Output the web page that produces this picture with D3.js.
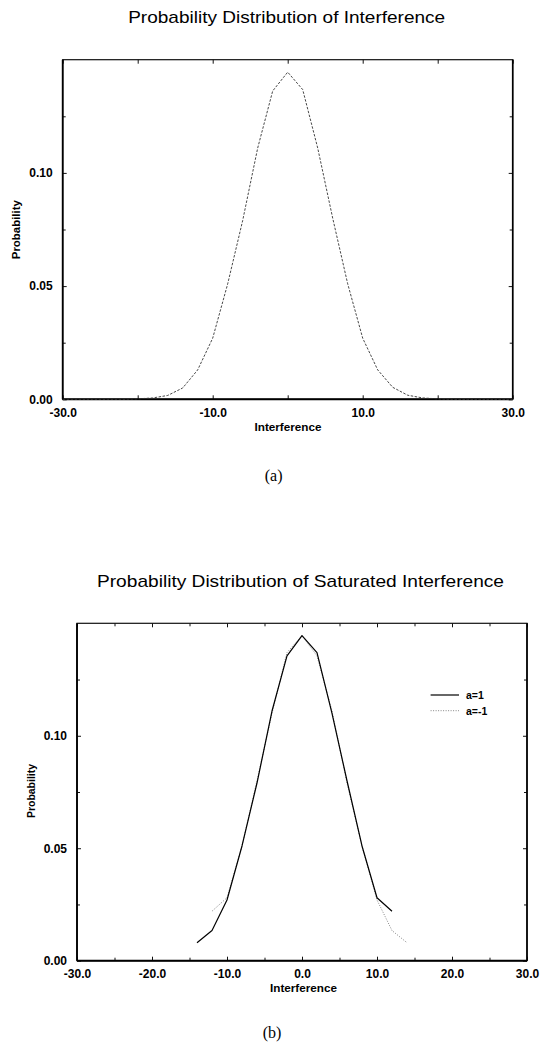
<!DOCTYPE html>
<html>
<head>
<meta charset="utf-8">
<script src="https://cdn.jsdelivr.net/npm/d3@7"></script>
<style>
  html, body { margin: 0; padding: 0; background: #fff; }
  svg { display: block; }
</style>
</head>
<body>
<script>
// ---------------- DATA ----------------
// Panel (a): probability distribution of interference
const interfX = [-30,-28,-26,-24,-22,-20,-18,-16,-14,-12,-10,-8,-6,-4,-2,0,2,4,6,8,10,12,14,16,18,20,22,24,26,28,30];
const interfP = [0,0,0,0,0,0.0002,0.0006,0.0017,0.0050,0.0130,0.0270,0.0510,0.0790,0.1110,0.1362,0.1445,0.1368,0.1110,0.0800,0.0510,0.0270,0.0130,0.0053,0.0018,0.0006,0.0002,0,0,0,0,0];

// Panel (b): probability distribution of saturated interference
const satXa1  = [-14,-12,-10,-8,-6,-4,-2,0,2,4,6,8,10,12];
const satPa1  = [0.0080,0.0134,0.0270,0.0510,0.0790,0.1110,0.1355,0.1445,0.1370,0.1100,0.0800,0.0510,0.0280,0.0220];
const satXam1 = [-12,-10,-8,-6,-4,-2,0,2,4,6,8,10,12,14];
const satPam1 = [0.0220,0.0280,0.0510,0.0800,0.1100,0.1370,0.1445,0.1355,0.1110,0.0790,0.0510,0.0270,0.0134,0.0080];
const legendLabels = ["a=1", "a=-1"];

// ticks
const xDomain = [-30, 30];
const yDomain = [0, 0.15];
const xMajorA = [-30,-20,-10,0,10,20,30];
const xLabelsA = [-30,-10,10,30];
const xMajorB = [-30,-20,-10,0,10,20,30];
const xMinorB = [-25,-15,-5,5,15,25];
const xLabelsB = [-30,-20,-10,0,10,20,30];
const yMajor = [0, 0.05, 0.10];
const yMinor = [0.025, 0.075, 0.125];

const titles = ["Probability Distribution of Interference", "Probability Distribution of Saturated Interference"];
const xTitle = "Interference";
const yTitle = "Probability";
const captions = ["(a)", "(b)"];

// ---------------- DRAW ----------------
const W = 543, H = 1042;
const svg = d3.select("body").append("svg").attr("width", W).attr("height", H);

const SANS = "'Liberation Sans', Arial, Helvetica, sans-serif";
const SERIF = "'Liberation Serif', 'Times New Roman', serif";

function panel(cfg) {
  const g = svg.append("g");
  const x = d3.scaleLinear().domain(xDomain).range([cfg.left, cfg.right]);
  const y = d3.scaleLinear().domain(yDomain).range([cfg.bottom, cfg.top]);

  // title
  g.append("text")
    .attr("x", cfg.titleX).attr("y", cfg.titleY)
    .attr("text-anchor", "middle")
    .attr("font-family", SANS).attr("font-size", 17)
    .attr("textLength", cfg.titleLen).attr("lengthAdjust", "spacingAndGlyphs")
    .attr("fill", "#000")
    .text(cfg.title);

  // axes via d3 axis generators, ticks pointing inward
  const fmtX = v => cfg.xLabels.includes(v) ? v.toFixed(1) : "";
  const fmtY = v => v.toFixed(2);

  g.append("g").attr("transform", `translate(0,${cfg.bottom})`)
    .call(d3.axisBottom(x).tickValues(cfg.xMajor).tickSizeInner(-4).tickSizeOuter(0).tickFormat(fmtX).tickPadding(9));
  g.append("g").attr("transform", `translate(0,${cfg.top})`)
    .call(d3.axisTop(x).tickValues(cfg.xMajor).tickSizeInner(-4).tickSizeOuter(0).tickFormat(""));
  g.append("g").attr("transform", `translate(${cfg.left},0)`)
    .call(d3.axisLeft(y).tickValues(yMajor).tickSizeInner(-4).tickSizeOuter(0).tickFormat(fmtY).tickPadding(10));
  g.append("g").attr("transform", `translate(${cfg.right},0)`)
    .call(d3.axisRight(y).tickValues(yMajor).tickSizeInner(-4).tickSizeOuter(0).tickFormat(""));

  // minor ticks
  if (cfg.xMinor.length) {
    g.append("g").attr("transform", `translate(0,${cfg.bottom})`)
      .call(d3.axisBottom(x).tickValues(cfg.xMinor).tickSizeInner(-3).tickSizeOuter(0).tickFormat(""));
    g.append("g").attr("transform", `translate(0,${cfg.top})`)
      .call(d3.axisTop(x).tickValues(cfg.xMinor).tickSizeInner(-3).tickSizeOuter(0).tickFormat(""));
  }
  g.append("g").attr("transform", `translate(${cfg.left},0)`)
    .call(d3.axisLeft(y).tickValues(yMinor).tickSizeInner(-3).tickSizeOuter(0).tickFormat(""));
  g.append("g").attr("transform", `translate(${cfg.right},0)`)
    .call(d3.axisRight(y).tickValues(yMinor).tickSizeInner(-3).tickSizeOuter(0).tickFormat(""));

  g.selectAll(".domain").remove();
  g.selectAll(".tick line").attr("stroke", "#111").attr("stroke-width", 1);
  g.selectAll(".tick text").attr("font-family", SANS).attr("font-size", 12)
    .attr("font-weight", "bold").attr("fill", "#000");

  // frame
  g.append("rect")
    .attr("x", cfg.left).attr("y", cfg.top)
    .attr("width", cfg.right - cfg.left).attr("height", cfg.bottom - cfg.top)
    .attr("fill", "none").attr("stroke", "#111").attr("stroke-width", 1.2);
  g.append("line").attr("x1", cfg.left).attr("x2", cfg.right)
    .attr("y1", cfg.bottom).attr("y2", cfg.bottom).attr("stroke", "#000").attr("stroke-width", 2);
  g.append("line").attr("x1", cfg.left).attr("x2", cfg.left)
    .attr("y1", cfg.top).attr("y2", cfg.bottom).attr("stroke", "#000").attr("stroke-width", 1.8);
  g.append("line").attr("x1", cfg.right).attr("x2", cfg.right)
    .attr("y1", cfg.top).attr("y2", cfg.bottom).attr("stroke", "#000").attr("stroke-width", 1.6);

  // axis titles
  g.append("text")
    .attr("x", cfg.xTitleX).attr("y", cfg.xTitleY)
    .attr("text-anchor", "middle")
    .attr("font-family", SANS).attr("font-size", 10.5).attr("font-weight", "bold")
    .attr("textLength", 67).attr("lengthAdjust", "spacingAndGlyphs")
    .text(xTitle);
  g.append("text")
    .attr("transform", `translate(${cfg.yTitleX},${cfg.yTitleY}) rotate(-90)`)
    .attr("text-anchor", "middle").attr("dominant-baseline", "central")
    .attr("font-family", SANS).attr("font-size", 10.5).attr("font-weight", "bold")
    .attr("textLength", cfg.yTitleLen).attr("lengthAdjust", "spacingAndGlyphs")
    .text(yTitle);

  // caption
  g.append("text")
    .attr("x", cfg.capX).attr("y", cfg.capY)
    .attr("text-anchor", "middle")
    .attr("font-family", SERIF).attr("font-size", 16)
    .text(cfg.caption);

  const line = d3.line().x(d => x(d[0])).y(d => y(d[1]));
  cfg.series.forEach(s => {
    g.append("path")
      .datum(s.xs.map((v, i) => [v, s.ps[i]]))
      .attr("d", line)
      .attr("fill", "none")
      .attr("stroke", s.color)
      .attr("stroke-width", s.width)
      .attr("stroke-dasharray", s.dash)
      .attr("stroke-linejoin", "round");
  });

  return { g, x, y };
}

// Panel (a)
panel({
  left: 62.7, right: 512.7, top: 59.7, bottom: 399.3,
  title: titles[0], titleX: 286.7, titleY: 23, titleLen: 317,
  xMajor: xMajorA, xMinor: [], xLabels: xLabelsA,
  xTitleX: 288, xTitleY: 431, yTitleX: 15.6, yTitleY: 229.7, yTitleLen: 59,
  caption: captions[0], capX: 273.6, capY: 481,
  series: [
    { xs: interfX, ps: interfP, color: "#333", width: 0.9, dash: "2.5,1.5" }
  ]
});

// Panel (b)
const pb = panel({
  left: 77, right: 527, top: 623.3, bottom: 960.7,
  title: titles[1], titleX: 300.5, titleY: 587, titleLen: 407,
  xMajor: xMajorB, xMinor: xMinorB, xLabels: xLabelsB,
  xTitleX: 303.5, xTitleY: 992, yTitleX: 31, yTitleY: 791, yTitleLen: 54,
  caption: captions[1], capX: 272, capY: 1038,
  series: [
    { xs: satXam1, ps: satPam1, color: "#777", width: 0.9, dash: "1,1.5" },
    { xs: satXa1, ps: satPa1, color: "#000", width: 1.2, dash: null }
  ]
});

// legend for (b)
const legend = [
  { label: legendLabels[0], y: 695, color: "#000", width: 1.2, dash: null },
  { label: legendLabels[1], y: 710.7, color: "#777", width: 0.9, dash: "1,1.5" }
];
const lg = pb.g.append("g");
legend.forEach(l => {
  lg.append("line").attr("x1", 430.6).attr("x2", 459).attr("y1", l.y).attr("y2", l.y)
    .attr("stroke", l.color).attr("stroke-width", l.width).attr("stroke-dasharray", l.dash);
  lg.append("text").attr("x", 466).attr("y", l.y + 3.8)
    .attr("font-family", SANS).attr("font-size", 10.5).attr("font-weight", "bold")
    .text(l.label);
});
</script>
</body>
</html>
